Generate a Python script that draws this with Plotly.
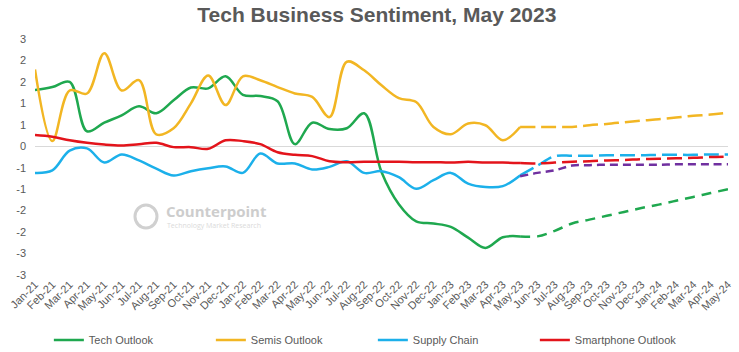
import plotly.graph_objects as go

months = ["Jan-21","Feb-21","Mar-21","Apr-21","May-21","Jun-21","Jul-21","Aug-21","Sep-21","Oct-21",
          "Nov-21","Dec-21","Jan-22","Feb-22","Mar-22","Apr-22","May-22","Jun-22","Jul-22","Aug-22",
          "Sep-22","Oct-22","Nov-22","Dec-22","Jan-23","Feb-23","Mar-23","Apr-23","May-23","Jun-23",
          "Jul-23","Aug-23","Sep-23","Oct-23","Nov-23","Dec-23","Jan-24","Feb-24","Mar-24","Apr-24","May-24"]

actual_months = months[:29]      # Jan-21 .. May-23
forecast_months = months[28:]    # May-23 .. May-24

tech_outlook = [1.31, 1.38, 1.50, 0.35, 0.55, 0.72, 0.93, 0.77, 1.07, 1.37,
                1.35, 1.63, 1.20, 1.17, 1.05, 0.05, 0.55, 0.40, 0.42, 0.77,
                -0.60, -1.35, -1.75, -1.80, -1.88, -2.13, -2.37, -2.12, -2.10]
semis_outlook = [1.79, 0.12, 1.30, 1.23, 2.17, 1.30, 1.54, 0.28, 0.42, 1.00,
                 1.65, 0.96, 1.63, 1.54, 1.38, 1.23, 1.15, 0.68, 1.97, 1.77,
                 1.42, 1.12, 1.03, 0.45, 0.28, 0.53, 0.49, 0.14, 0.45]
supply_chain = [-0.62, -0.56, -0.10, -0.05, -0.38, -0.19, -0.33, -0.52, -0.68, -0.58,
                -0.51, -0.47, -0.62, -0.17, -0.40, -0.40, -0.54, -0.48, -0.35, -0.62,
                -0.58, -0.72, -0.99, -0.79, -0.62, -0.87, -0.95, -0.93, -0.68]
smartphone_outlook = [0.26, 0.22, 0.14, 0.08, 0.04, 0.02, 0.05, 0.08, -0.02, -0.02,
                      -0.06, 0.14, 0.12, 0.05, -0.14, -0.20, -0.23, -0.35, -0.37, -0.36,
                      -0.36, -0.36, -0.37, -0.37, -0.38, -0.36, -0.38, -0.38, -0.39]

tech_forecast = [-2.10, -2.10, -1.97, -1.80, -1.71, -1.62, -1.53, -1.44, -1.36, -1.27, -1.18, -1.09, -1.00]
semis_forecast = [0.45, 0.45, 0.45, 0.45, 0.49, 0.52, 0.56, 0.60, 0.63, 0.67, 0.71, 0.74, 0.78]
supply_forecast = [-0.68, -0.45, -0.23, -0.22, -0.22, -0.21, -0.21, -0.21, -0.20, -0.20, -0.20, -0.19, -0.19]
smartphone_forecast = [-0.39, -0.40, -0.38, -0.36, -0.35, -0.33, -0.32, -0.30, -0.29, -0.28, -0.27, -0.25, -0.24]
other_forecast = [-0.70, -0.62, -0.56, -0.45, -0.44, -0.43, -0.43, -0.43, -0.43, -0.42, -0.42, -0.42, -0.42]

ytick_vals = [-3, -2.5, -2, -1.5, -1, -0.5, 0, 0.5, 1, 1.5, 2, 2.5]
ytick_text = ["-3", "-3", "-2", "-2", "-1", "-1", "0", "1", "1", "2", "2", "3"]

GREEN = "#1FA84F"
YELLOW = "#F2B623"
BLUE = "#1CB0EA"
RED = "#E3141B"
PURPLE = "#7030A0"
FONT = "Liberation Sans, Arial, sans-serif"

fig = go.Figure()

def add_line(x, y, name, color, dash="solid", show=True, width=2.5):
    fig.add_trace(go.Scatter(
        x=x, y=y, name=name, mode="lines",
        line=dict(color=color, width=width, shape="spline", smoothing=1, dash=dash),
        showlegend=show, hoverinfo="skip"))

add_line(actual_months, tech_outlook, "Tech Outlook", GREEN)
add_line(actual_months, semis_outlook, "Semis Outlook", YELLOW)
add_line(actual_months, supply_chain, "Supply Chain", BLUE)
add_line(actual_months, smartphone_outlook, "Smartphone Outlook", RED)
add_line(forecast_months, tech_forecast, "Tech Forecast", GREEN, dash="10px,7px", show=False)
add_line(forecast_months, semis_forecast, "Semis Forecast", YELLOW, dash="15px,6px", show=False)
add_line(forecast_months, supply_forecast, "Supply Forecast", BLUE, dash="15px,6px", show=False)
add_line(forecast_months, other_forecast, "Other Forecast", PURPLE, dash="8px,5px", show=False)
add_line(forecast_months, smartphone_forecast, "Smartphone Forecast", RED, dash="15px,6px", show=False)

fig.update_layout(
    width=739, height=352,
    margin=dict(l=35, r=11, t=39, b=77, autoexpand=False),
    paper_bgcolor="white", plot_bgcolor="white",
    font=dict(family=FONT, size=11, color="#595959"),
    title=dict(text="<b>Tech Business Sentiment, May 2023</b>", x=0.51, xanchor="center",
               y=0.978, yanchor="top", font=dict(family=FONT, size=21, color="#595959")),
    showlegend=True,
    legend=dict(orientation="h", x=0.02, xanchor="left", y=-0.275, yanchor="middle",
                font=dict(family=FONT, size=11, color="#595959"),
                entrywidth=117, entrywidthmode="pixels", itemwidth=30,
                bgcolor="rgba(0,0,0,0)"),
)

fig.update_xaxes(
    type="category", categoryorder="array", categoryarray=months,
    range=[0, len(months) - 1], showgrid=False, zeroline=False, showline=False,
    tickangle=-45, ticks="", automargin=False,
    tickfont=dict(family=FONT, size=11, color="#595959"), fixedrange=True)

fig.update_yaxes(
    range=[-3, 2.5], tickvals=ytick_vals, ticktext=ytick_text,
    showgrid=False, zeroline=True, zerolinecolor="#D9D9D9", zerolinewidth=1,
    showline=False, ticks="", ticklabelstandoff=8, automargin=False,
    tickfont=dict(family=FONT, size=11, color="#595959"), fixedrange=True)

# Watermark (Counterpoint logo)
fig.add_shape(type="circle", xref="paper", yref="paper",
              x0=(135 - 35) / 693, x1=(157 - 35) / 693,
              y0=(275 - 228) / 236, y1=(275 - 205) / 236,
              line=dict(color="#D0D0D0", width=3), layer="below")
fig.add_annotation(text="<b>Counterpoint</b>", xref="paper", yref="paper",
                   x=(164 - 35) / 693, y=(275 - 211) / 236, xanchor="left", yanchor="middle",
                   showarrow=False, font=dict(family="Open Sans, sans-serif", size=15, color="#CDCDCD"))
fig.add_annotation(text="Technology Market Research", xref="paper", yref="paper",
                   x=(165 - 35) / 693, y=(275 - 225) / 236, xanchor="left", yanchor="middle",
                   showarrow=False, font=dict(family="Open Sans, sans-serif", size=7, color="#DADADA"))

fig.write_html("out.html")
